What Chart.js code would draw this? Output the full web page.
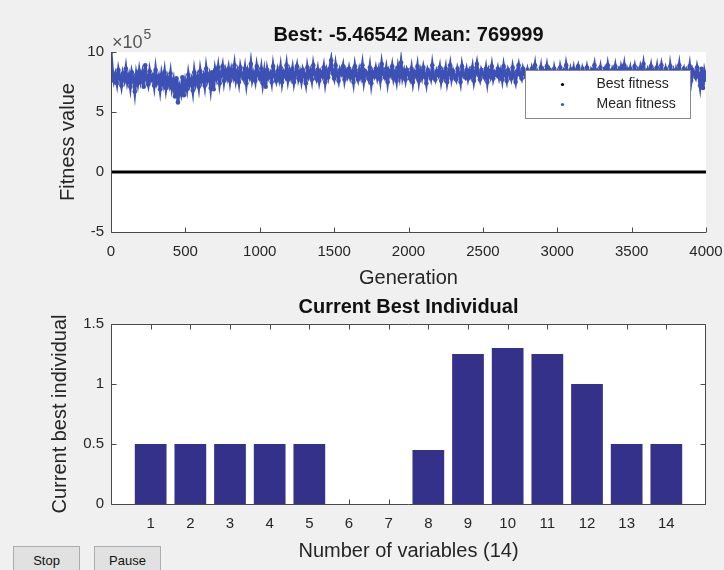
<!DOCTYPE html>
<html>
<head>
<meta charset="utf-8">
<title>Genetic algorithm progress</title>
<script src="https://cdn.jsdelivr.net/npm/chart.js@4.4.1/dist/chart.umd.min.js"></script>
<style>
  html, body { margin: 0; padding: 0; background: #f0f0f0; }
  #fig { position: relative; width: 724px; height: 570px; overflow: hidden; }
  #fitnessCanvas { position: absolute; left: 0; top: 0; }
  #individualCanvas { position: absolute; left: 0; top: 290px; }
  .btn {
    position: absolute; top: 546px; width: 67px; height: 30px;
    box-sizing: border-box; background: #e1e1e1; border: 1px solid #adadad;
    font: 13px "Liberation Sans", Arial, sans-serif; color: #111;
    text-align: center; line-height: 27px;
  }
</style>
</head>
<body>
<div id="fig">
  <canvas id="fitnessCanvas" width="724" height="290"></canvas>
  <canvas id="individualCanvas" width="724" height="280"></canvas>
  <div class="btn" style="left:13px">Stop</div>
  <div class="btn" style="left:94px">Pause</div>
</div>
<script>
// ---- data ----
const GEN_STEP = 10;          // mean fitness sampled every 10 generations
const FIT_SCALE = 1e5;        // axis multiplier (x 10^5)

// mean fitness, in units of 1e5, generations 0..4000
const meanFitness = [
  10.0, 8.3, 7.6, 8.1, 7.4, 8.5, 7.9, 7.2, 8.2, 7.7, 8.6, 7.5, 8.0, 7.1, 8.3, 7.8, 6.7, 8.1, 7.4, 8.4,
  7.6, 8.2, 7.1, 8.9, 7.8, 7.3, 8.4, 7.7, 8.0, 7.2, 8.5, 7.5, 7.9, 6.9, 8.1, 7.4, 8.3, 7.0, 7.8, 7.3,
  8.2, 7.0, 7.6, 6.3, 7.8, 5.8, 7.1, 6.6, 7.9, 6.4, 7.5, 6.9, 8.1, 7.3, 7.7, 6.8, 8.3, 7.4, 7.9, 7.1,
  8.4, 7.6, 8.0, 7.2, 8.6, 7.7, 8.1, 7.0, 8.3, 6.9, 8.5, 7.9, 8.7, 7.4, 8.2, 8.8, 7.6, 8.4, 7.9, 8.6,
  7.6, 8.5, 8.0, 8.9, 7.7, 8.3, 7.5, 8.7, 8.1, 7.8, 8.6, 7.4, 8.4, 8.0, 9.0, 7.7, 8.2, 7.6, 8.8, 8.1,
  7.8, 8.6, 7.4, 8.3, 7.1, 8.5, 7.9, 8.2, 7.5, 8.8, 8.0, 7.6, 8.4, 7.8, 8.7, 7.5, 8.3, 8.0, 8.9, 7.7,
  8.4, 7.9, 8.6, 7.5, 8.2, 8.8, 7.8, 8.3, 7.6, 8.5, 8.1, 7.4, 8.7, 8.0, 8.4, 7.7, 8.9, 8.2, 7.8, 8.5,
  7.6, 8.3, 8.0, 8.7, 7.5, 8.4, 7.9, 8.6, 9.3, 8.2, 7.8, 8.9, 8.1, 7.6, 8.5, 8.2, 8.8, 7.7, 8.4, 8.0,
  8.6, 7.9, 8.3, 7.5, 8.8, 8.1, 7.7, 8.5, 8.0, 8.9, 7.6, 8.4, 8.2, 7.8, 8.7, 7.4, 8.3, 8.0, 8.6, 7.9,
  8.5, 7.7, 9.0, 8.2, 7.9, 8.6, 7.5, 8.4, 8.1, 8.8, 7.8, 8.3, 7.6, 8.7, 8.0, 9.1, 7.9, 8.4, 7.7, 8.5,
  8.2, 7.8, 8.6, 7.5, 8.3, 8.0, 8.8, 7.6, 8.4, 7.9, 8.7, 8.1, 7.4, 8.5, 8.2, 7.8, 8.9, 8.0, 7.7, 8.4,
  8.1, 8.7, 7.6, 8.3, 7.9, 8.6, 7.5, 8.2, 8.9, 7.8, 8.4, 8.0, 7.7, 8.6, 8.2, 7.5, 8.8, 8.1, 7.9, 8.5,
  7.8, 8.4, 8.0, 8.7, 7.6, 8.3, 9.0, 8.1, 7.7, 8.5, 8.2, 7.9, 8.6, 7.5, 8.4, 8.0, 8.8, 7.8, 8.3, 8.1,
  8.6, 7.9, 8.4, 7.7, 8.8, 8.1, 7.6, 8.5, 8.2, 7.8, 8.7, 8.0, 7.5, 8.4, 8.9, 8.1, 7.8, 8.6, 8.2, 7.9,
  8.5, 8.0, 7.7, 8.6, 8.2, 8.9, 7.8, 8.3, 8.0, 8.7, 7.6, 8.4, 8.1, 8.8, 7.9, 8.5, 8.2, 7.7, 8.6, 8.0,
  8.3, 7.8, 8.7, 8.1, 8.4, 7.9, 8.9, 8.2, 7.7, 8.5, 8.0, 8.6, 7.8, 8.4, 8.8, 8.1, 7.9, 8.6, 8.2, 8.0,
  8.7, 8.1, 7.8, 8.5, 8.3, 8.9, 7.9, 8.4, 8.1, 8.7, 7.8, 8.3, 8.6, 8.0, 8.9, 8.2, 7.9, 8.5, 8.1, 8.8,
  8.0, 8.4, 7.8, 8.7, 8.2, 8.9, 7.9, 8.5, 8.1, 8.6, 7.7, 8.3, 8.8, 8.0, 8.4, 7.9, 8.7, 8.2, 9.0, 8.1,
  7.8, 8.5, 8.2, 8.8, 7.9, 8.4, 8.0, 8.7, 7.6, 8.3, 8.9, 8.1, 7.8, 8.6, 8.2, 7.5, 8.8, 8.0, 8.4, 7.7,
  8.5, 8.1, 8.9, 7.8, 8.3, 8.6, 7.9, 8.4, 8.0, 8.8, 7.6, 8.5, 8.2, 7.9, 8.7, 8.1, 7.2, 8.6, 7.0, 8.3,
  7.69999
];

// best fitness (raw units) at every 500 generations
const bestGens = [0, 500, 1000, 1500, 2000, 2500, 3000, 3500, 4000];
const bestFitness = [-2.1, -4.8, -5.3, -5.41, -5.45, -5.462, -5.465, -5.4654, -5.46542];

// current best individual
const varIndex = [1, 2, 3, 4, 5, 6, 7, 8, 9, 10, 11, 12, 13, 14];
const bestIndividual = [0.5, 0.5, 0.5, 0.5, 0.5, 0, 0, 0.45, 1.25, 1.3, 1.25, 1.0, 0.5, 0.5];

const fitnessTicks = [-5, 0, 5, 10];
const individualTicks = [0, 0.5, 1, 1.5];

// ---- styling ----
const FONT = '"Liberation Sans", Arial, Helvetica, sans-serif';
const TEXT = "#262626";
const AXIS = "#4a4a4a";
const MEAN_BLUE = "#3d51b5";
const BAR_NAVY = "#33318a";

Chart.defaults.font.family = FONT;
Chart.defaults.color = TEXT;

// white axes box, MATLAB-style inward ticks, title and optional legend
const figureAxes = {
  id: "figureAxes",
  beforeDraw(chart) {
    const { ctx, chartArea: a } = chart;
    ctx.save();
    ctx.fillStyle = "#ffffff";
    ctx.fillRect(a.left, a.top, a.right - a.left, a.bottom - a.top);
    ctx.restore();
  },
  // tick marks sit under the data, like the axes layer in MATLAB
  beforeDatasetsDraw(chart, args, opts) {
    const { ctx, chartArea: a, scales } = chart;
    const xs = scales.x, ys = scales.y;
    const len = 5;
    const L = a.left + 0.5, R = a.right - 0.5, T = a.top + 0.5, B = a.bottom + 0.5;
    ctx.save();
    ctx.strokeStyle = AXIS;
    ctx.lineWidth = 1;
    ctx.beginPath();
    xs.ticks.forEach((t) => {
      if (!t.label) return;
      const px = Math.round(xs.getPixelForValue(t.value)) + 0.5;
      ctx.moveTo(px, B); ctx.lineTo(px, B - len);
      if (opts.box) { ctx.moveTo(px, T); ctx.lineTo(px, T + len); }
    });
    ys.ticks.forEach((t) => {
      const py = Math.round(ys.getPixelForValue(t.value)) + 0.5;
      ctx.moveTo(L, py); ctx.lineTo(L + len, py);
      if (opts.box) { ctx.moveTo(R, py); ctx.lineTo(R - len, py); }
    });
    ctx.stroke();
    ctx.restore();
  },
  afterDraw(chart, args, opts) {
    const { ctx, chartArea: a } = chart;
    const L = a.left + 0.5, R = a.right - 0.5, T = a.top + 0.5, B = a.bottom + 0.5;
    ctx.save();
    ctx.strokeStyle = AXIS;
    ctx.lineWidth = 1;
    ctx.beginPath();
    ctx.moveTo(L, a.top);
    ctx.lineTo(L, B);
    ctx.lineTo(a.right, B);
    if (opts.box) {
      ctx.moveTo(R, B);
      ctx.lineTo(R, T);
      ctx.lineTo(L, T);
    }
    ctx.stroke();

    // title
    ctx.fillStyle = "#111";
    ctx.font = `bold 20px ${FONT}`;
    ctx.textAlign = "center";
    ctx.textBaseline = "middle";
    ctx.fillText(opts.title, (a.left + a.right) / 2, a.top - 17);

    // axis multiplier
    if (opts.exponent) {
      ctx.fillStyle = "#555";
      ctx.textAlign = "left";
      ctx.textBaseline = "alphabetic";
      ctx.font = `18px ${FONT}`;
      ctx.fillText("\u00d710", a.left + 1, a.top - 4);
      const w = ctx.measureText("\u00d710").width;
      ctx.font = `14px ${FONT}`;
      ctx.fillText(opts.exponent, a.left + 2 + w, a.top - 13);
    }

    // legend inside the axes, top right
    if (opts.legend) {
      const bw = 165, bh = 48;
      const bx = a.right - 181 + 0.5, by = a.top + 18 + 0.5;
      ctx.fillStyle = "#ffffff";
      ctx.fillRect(bx, by, bw, bh);
      ctx.strokeStyle = "#8a8a8a";
      ctx.strokeRect(bx, by, bw, bh);
      ctx.font = `14px ${FONT}`;
      ctx.textAlign = "left";
      ctx.textBaseline = "middle";
      opts.legend.forEach((item, i) => {
        const cy = by + 14 + i * 20;
        ctx.fillStyle = item.color;
        ctx.beginPath();
        ctx.arc(bx + 37, cy, 1.6, 0, Math.PI * 2);
        ctx.fill();
        ctx.fillStyle = TEXT;
        ctx.fillText(item.label, bx + 71, cy);
      });
    }
    ctx.restore();
  },
};

const tickFont = { size: 15 };
const labelFont = { size: 20 };

// ignore the half-label overhang so the axes keep their fixed width
const fixX = (h) => (s) => { s.height = h; s.paddingLeft = 0; s.paddingRight = 0; };
const fixY = (w) => (s) => { s.width = w; s.paddingTop = 0; s.paddingBottom = 0; };

// ---- fitness plot ----
const meanPoints = meanFitness.map((v, i) => ({ x: i * GEN_STEP, y: v * FIT_SCALE }));
const bestPoints = bestGens.map((g, i) => ({ x: g, y: bestFitness[i] }));
const lastMean = Math.round(meanFitness[meanFitness.length - 1] * FIT_SCALE);
const lastBest = bestFitness[bestFitness.length - 1];

new Chart(document.getElementById("fitnessCanvas"), {
  type: "scatter",
  data: {
    datasets: [
      {
        label: "Best fitness",
        data: bestPoints,
        showLine: true,
        borderColor: "#000000",
        borderWidth: 3,
        pointRadius: 0,
      },
      {
        label: "Mean fitness",
        data: meanPoints,
        showLine: true,
        borderColor: MEAN_BLUE,
        borderWidth: 3,
        backgroundColor: MEAN_BLUE,
        pointBorderWidth: 0,
        pointRadius: 2.3,
      },
    ],
  },
  options: {
    responsive: false,
    animation: false,
    layout: { padding: { left: 0, top: 52, right: 18, bottom: 0 } },
    plugins: {
      legend: { display: false },
      tooltip: { enabled: false },
      figureAxes: {
        title: `Best: ${lastBest} Mean: ${lastMean}`,
        exponent: "5",
        legend: [
          { label: "Best fitness", color: "#000000" },
          { label: "Mean fitness", color: MEAN_BLUE },
        ],
      },
    },
    scales: {
      x: {
        type: "linear",
        min: 0,
        max: 4000,
        grid: { display: false, drawTicks: false },
        border: { display: false },
        ticks: { stepSize: 500, font: tickFont, padding: 11, maxRotation: 0, callback: (v) => String(v) },
        title: { display: true, text: "Generation", font: labelFont, padding: { top: 0, bottom: 0 } },
        afterFit: fixX(58),
      },
      y: {
        min: fitnessTicks[0] * FIT_SCALE,
        max: fitnessTicks[fitnessTicks.length - 1] * FIT_SCALE,
        grid: { display: false, drawTicks: false },
        border: { display: false },
        ticks: { stepSize: 5 * FIT_SCALE, font: tickFont, padding: 7, callback: (v) => String(v / FIT_SCALE) },
        title: { display: true, text: "Fitness value", font: labelFont, padding: { top: 56, bottom: 0 } },
        afterFit: fixY(111),
      },
    },
  },
  plugins: [figureAxes],
});

// ---- current best individual ----
new Chart(document.getElementById("individualCanvas"), {
  type: "bar",
  data: {
    datasets: [
      {
        data: varIndex.map((v, i) => ({ x: v, y: bestIndividual[i] })),
        backgroundColor: BAR_NAVY,
        borderWidth: 0,
        barPercentage: 0.8,
        categoryPercentage: 1.0,
      },
    ],
  },
  options: {
    responsive: false,
    animation: false,
    layout: { padding: { left: 0, top: 34, right: 18, bottom: 0 } },
    plugins: {
      legend: { display: false },
      tooltip: { enabled: false },
      figureAxes: { title: "Current Best Individual", box: true },
    },
    scales: {
      x: {
        type: "linear",
        min: 0,
        max: varIndex.length + 1,
        offset: false,
        grid: { display: false, drawTicks: false, offset: false },
        border: { display: false },
        ticks: {
          stepSize: 1,
          font: tickFont,
          padding: 11,
          maxRotation: 0,
          callback: (v) => (varIndex.includes(v) ? String(v) : ""),
        },
        title: { display: true, text: `Number of variables (${varIndex.length})`, font: labelFont, padding: { top: 0, bottom: 7 } },
        afterFit: fixX(66),
      },
      y: {
        min: individualTicks[0],
        max: individualTicks[individualTicks.length - 1],
        grid: { display: false, drawTicks: false },
        border: { display: false },
        ticks: { stepSize: 0.5, font: tickFont, padding: 7, callback: (v) => String(v) },
        title: { display: true, text: "Current best individual", font: labelFont, padding: { top: 48, bottom: 0 } },
        afterFit: fixY(111),
      },
    },
  },
  plugins: [figureAxes],
});
</script>
</body>
</html>
